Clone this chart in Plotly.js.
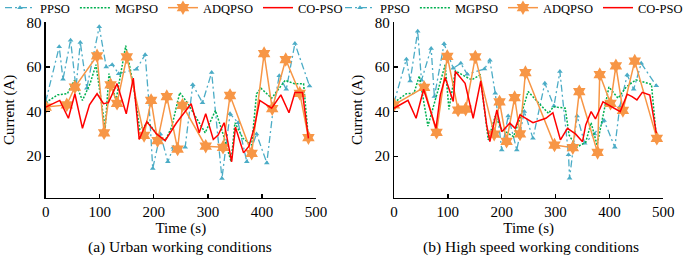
<!DOCTYPE html>
<html>
<head>
<meta charset="utf-8">
<script src="https://cdn.plot.ly/plotly-3.0.1.min.js"></script>
<style>html,body{margin:0;padding:0;background:#fff;}#chart{width:685px;height:258px;}</style>
</head>
<body>
<div id="chart"></div>
<script>
// ---- (a) Urban working conditions ----
const urbanTimePPSO = [0,25,32,46,56,64,76,99,112,123,135,168,184,191,198,212,226,236,258,272,290,307,326,341,356,372,390,409,421,432,445,461,488];
const urbanPPSO     = [44.5,69,54.5,72,50.5,71,50.5,78,60,61,57,59,65.5,44,14.5,30,17.5,24,24,52,44,57.5,10,39,35,17.5,30,17,41.5,56,50,70.5,51.5];
const urbanTimeMGPSO = [0,22,40,53,68,82,93,110,117,130,148,162,174,190,205,221,233,248,262,276,295,314,328,343,350,365,381,390,398,418,443,460,477,486];
const urbanMGPSO     = [44,47.5,48,54,45,52.5,61,32.5,57,45,69.5,52,32,35,30,27,33,48.5,44,38.5,30.5,40.5,30,17.5,35,28,25,48,50.5,46,54,52.5,52.5,28];
const urbanTimeADQPSO = [0,39,54,95,108,120,132,150,182,195,207,224,244,253,296,328,341,381,404,419,444,470,486];
const urbanADQPSO     = [42,43,51,65,30.5,52,43.7,64.5,29.3,45,27,46.7,23.2,42.8,24.5,24,47.2,21.3,66,41.3,63.3,48.2,28.3];
const urbanTimeCOPSO = [0,26,42,54,68,81,95,107,116,132,149,162,173,187,205,221,242,255,269,284,296,310,319,330,344,351,366,376,386,396,418,435,450,461,475,486];
const urbanCOPSO     = [42,45,37,48,32.5,43,48,43.5,44,52.5,39,55,27.5,35.5,30,27,35,39,43.5,30.5,39,27.5,29.5,35,17.5,33,21.5,24.5,33,45,41.5,47.5,39.5,48.5,48.5,28];

// ---- (b) High speed working conditions ----
const highTimePPSO = [0,23,30,44,51,69,75,93,110,124,136,168,178,188,200,212,228,242,258,280,297,308,324,326,340,354,372,390,410,419,433,445,459,487];
const highPPSO     = [44,63.5,53.7,76,54,68.3,46.7,70.4,59.4,61.6,56.7,59.1,63,48.2,22.8,38,22.8,40,28,52.7,42.5,57.9,20.6,10.1,38,25.8,30,36,24,42,56.4,50,61.6,51.6];
const highTimeMGPSO = [0,23,37,47,63,82,95,102,114,144,160,175,188,200,222,234,249,268,287,296,318,325,339,356,366,377,399,416,431,449,478,487];
const highMGPSO     = [44,48,48.2,56,33.5,49.7,61,41,58.2,54.2,56.4,27.3,38,32,28.8,37,49,44,39.2,42.2,41.5,29.5,24,26.3,35,25,51,46,51,54.2,52.2,28.8];
const highTimeADQPSO = [0,56,79,99,119,133,151,186,196,209,224,234,244,298,332,344,378,382,402,412,425,447,488];
const highADQPSO     = [43,50.8,30.7,64.7,40.7,41.1,64.5,29.9,44.3,26.7,46.3,30,57.5,25,23.8,48.9,21.7,56.6,43.7,60.5,40.5,62.6,28];
const highTimeCOPSO = [0,26,41,55,78,86,95,110,114,132,147,161,172,178,191,200,215,225,234,258,282,295,309,322,337,350,356,366,374,388,420,433,442,451,461,475,487];
const highCOPSO     = [41.5,45,37,50,32.5,47.4,55.3,44.5,58,52.7,37,53.6,34,26.5,40.7,31,34.8,32.5,38.5,35,37,39.5,27.3,32.5,30,26.5,34,40,36.7,44.4,40,47.8,46.7,45.2,48.6,47.4,30.3];

const seriesNames = ['PPSO','MGPSO','ADQPSO','CO-PSO'];
const xTicks = [0,100,200,300,400,500];
const yTicks = [20,40,60,80];
const xTitle = 'Time (s)';
const yTitle = 'Current (A)';
const panelTitles = ['(a) Urban working conditions','(b) High speed working conditions'];

const styles = [
  {mode:'lines+markers', line:{color:'#4BACC6', width:1.3, dash:'7px,3px,2px,3px'}, marker:{symbol:'triangle-up', size:5, color:'#4BACC6'}},
  {mode:'lines', line:{color:'#00B050', width:1.5, dash:'2px,1.5px'}},
  {mode:'lines+markers', line:{color:'#F79646', width:1.5}, marker:{symbol:'hexagram', size:11, color:'#F79646'}},
  {mode:'lines', line:{color:'#FF0000', width:1.5}}
];

function makeTraces(times, values, xa, ya, legend) {
  return values.map((v, i) => Object.assign({
    type:'scatter', x: times[i], y: v, name: seriesNames[i],
    xaxis: xa, yaxis: ya, legend: legend, hoverinfo:'skip'
  }, styles[i]));
}

const data = [].concat(
  makeTraces([urbanTimePPSO, urbanTimeMGPSO, urbanTimeADQPSO, urbanTimeCOPSO],
             [urbanPPSO, urbanMGPSO, urbanADQPSO, urbanCOPSO], 'x', 'y', 'legend'),
  makeTraces([highTimePPSO, highTimeMGPSO, highTimeADQPSO, highTimeCOPSO],
             [highPPSO, highMGPSO, highADQPSO, highCOPSO], 'x2', 'y2', 'legend2')
);

const W = 685, H = 258;
const fontFam = '"Liberation Serif", "Times New Roman", Times, serif';
function xAxis(dom, anchor) {
  return {domain: dom, anchor: anchor, range:[0,500], tickvals: xTicks, showline:true, linecolor:'#000', linewidth:1.3,
    ticks:'inside', ticklen:4, tickwidth:1.3, tickcolor:'#000', showgrid:false, zeroline:false,
    tickfont:{size:15, family:fontFam}, title:{text:xTitle, font:{size:15, family:fontFam}, standoff:3}};
}
function yAxis(dom, anchor) {
  return {domain: dom, anchor: anchor, range:[1.5,80], tickvals: yTicks, showline:true, linecolor:'#000', linewidth:1.3,
    ticks:'inside', ticklen:4, tickwidth:1.3, tickcolor:'#000', showgrid:false, zeroline:false,
    tickfont:{size:15, family:fontFam}, title:{text:yTitle, font:{size:15, family:fontFam}, standoff:8}};
}
const yDom = [1 - 197.5/H, 1 - 22.3/H];
const legendBase = {orientation:'h', xanchor:'left', yanchor:'top', y:1.027, font:{size:12.5, family:fontFam}, bgcolor:'rgba(0,0,0,0)', itemclick:false, itemdoubleclick:false};

const layout = {
  width: W, height: H, margin:{l:0,r:0,t:0,b:0, autoexpand:false},
  paper_bgcolor:'#fff', plot_bgcolor:'#fff',
  font:{family:fontFam, size:15, color:'#000'},
  xaxis: xAxis([45.7/W, 316/W], 'y'),
  yaxis: yAxis(yDom, 'x'),
  xaxis2: xAxis([394/W, 663.3/W], 'y2'),
  yaxis2: yAxis(yDom, 'x2'),
  legend: Object.assign({}, legendBase, {x: 0}),
  legend2: Object.assign({}, legendBase, {x: 340/W}),
  annotations: [
    {text: panelTitles[0], xref:'paper', yref:'paper', x:180/W, y:1-247/H, xanchor:'center', yanchor:'middle', showarrow:false, font:{size:15.5, family:fontFam}},
    {text: panelTitles[1], xref:'paper', yref:'paper', x:531/W, y:1-247/H, xanchor:'center', yanchor:'middle', showarrow:false, font:{size:15.5, family:fontFam}}
  ],
  showlegend: true
};

Plotly.newPlot('chart', data, layout, {displayModeBar:false, staticPlot:true});
</script>
</body>
</html>
